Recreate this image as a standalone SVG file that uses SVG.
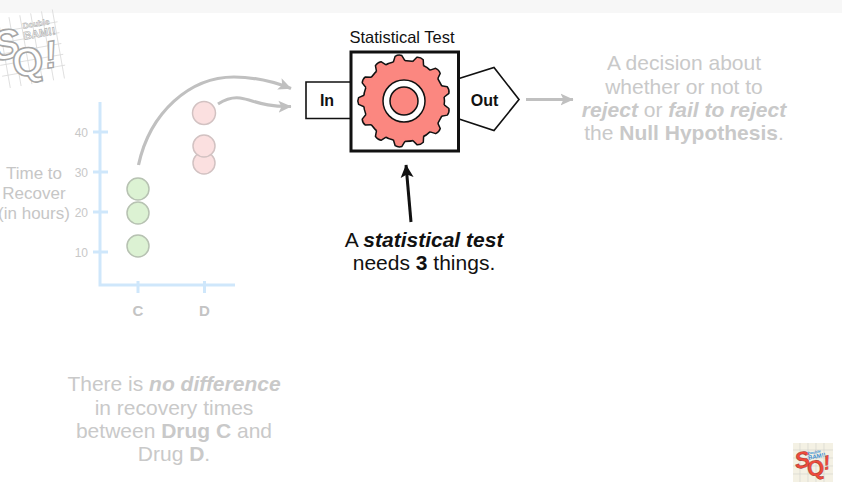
<svg xmlns="http://www.w3.org/2000/svg" xmlns:xlink="http://www.w3.org/1999/xlink" width="842" height="482" viewBox="0 0 842 482">
<style>
text{font-family:"Liberation Sans",Arial,sans-serif}
.big{font-size:21px;text-anchor:middle}
.faint{fill:#c9c9c9}
.ink{fill:#111}
.b{font-weight:bold}
.bi{font-weight:bold;font-style:italic}
.tick{font-size:12px;fill:#c8c8c8;text-anchor:end}
.axis{stroke:#cfe7fb;stroke-width:3;fill:none}
.ylab{font-size:17px;fill:#c6c6c6;text-anchor:middle}
.xlab{font-size:15px;font-weight:bold;fill:#c4c4c4;text-anchor:middle}
.green{fill:#dcf2d3;stroke:#b7c2b2;stroke-width:1.5}
.pink{fill:#fbe0e0;stroke:#d2c2c2;stroke-width:1.5}
.grey{fill:none;stroke:#c0c0c0;stroke-width:3.2}
.line{stroke:#111;stroke-width:1.6;fill:#fff}
.gridg{stroke:#d9d9d9;stroke-width:.8;fill:none}
</style>
<defs>
<marker id="hg" viewBox="0 0 14 14" refX="12.5" refY="7" markerUnits="userSpaceOnUse" markerWidth="14" markerHeight="14" orient="auto"><path d="M0 1 L13 7 L0 13 L3 7Z" fill="#c0c0c0"/></marker>
<marker id="hk" viewBox="0 0 14 14" refX="12.5" refY="7" markerUnits="userSpaceOnUse" markerWidth="14" markerHeight="14" orient="auto"><path d="M0 .5 L13 7 L0 13.5 L3 7Z" fill="#111"/></marker>
<g id="tooth">
<path d="M-5.6 -37 L-5.6 -40 L-3.4 -45.4 Q0 -47 3.4 -45.4 L5.6 -40 L5.6 -37Z" fill="#fb8780"/>
<path d="M-5.8 -40 L-3.4 -45.4 Q0 -47 3.4 -45.4 L5.8 -40" fill="none" stroke="#111" stroke-width="1.5" stroke-linejoin="round"/>
</g>
</defs>
<rect width="842" height="482" fill="#fff"/>
<rect width="842" height="13" fill="#f7f7f7"/>

<g id="logo-top">
<g transform="rotate(-10 30 50)">
<path class="gridg" d="M-2 27H62M-2 38H62M-2 49H62M-2 60H62M-2 71H62M4 14V84M15 14V84M26 14V84M37 14V84M48 14V84M59 14V84"/>
<text x="-7" y="55" font-size="42" font-weight="bold" font-style="italic" fill="#fff" stroke="#a6a6a6" stroke-width="1.6">S</text>
<text x="10" y="75" font-size="40" font-weight="bold" fill="#fff" stroke="#a6a6a6" stroke-width="1.6">Q</text>
<text x="43" y="71" font-size="38" font-weight="bold" font-style="italic" fill="#fff" stroke="#a6a6a6" stroke-width="1.4">!</text>
<text x="27" y="28" font-size="8" font-weight="bold" fill="#fff" stroke="#b0b0b0" stroke-width=".5">Double</text>
<text x="26" y="39" font-size="11" font-weight="bold" fill="#fff" stroke="#b0b0b0" stroke-width=".6">BAM!!</text>
</g>
</g>

<g id="chart">
<path class="axis" d="M100 102V285H235M93 132H108M93 172H108M93 212H108M93 252H108M138 281V293M204.500 281V293"/>
<text class="tick" x="88" y="137">40</text>
<text class="tick" x="88" y="177">30</text>
<text class="tick" x="88" y="217">20</text>
<text class="tick" x="88" y="257">10</text>
<text class="xlab" x="138" y="316">C</text>
<text class="xlab" x="204.500" y="316">D</text>
<text class="ylab" x="34" y="179">Time to</text>
<text class="ylab" x="34" y="199">Recover</text>
<text class="ylab" x="34" y="219">(in hours)</text>
</g>
<g id="dots-c">
<circle class="green" cx="138" cy="189" r="11"/>
<circle class="green" cx="138" cy="213" r="11"/>
<circle class="green" cx="138" cy="246" r="11"/>
</g>
<g id="dots-d">
<circle class="pink" cx="204" cy="163" r="11"/>
<circle class="pink" cx="204" cy="146" r="11"/>
<circle class="pink" cx="204" cy="113" r="11.500"/>
</g>

<g id="connectors">
<path class="grey" marker-end="url(#hg)" d="M138.500 165C150 112 190 77 234 77C254 77 272 81 291 88.500"/>
<path class="grey" marker-end="url(#hg)" d="M218 104C226 99 233 97 240 98C254 100 262 107 291 106.500"/>
<path class="grey" marker-end="url(#hg)" d="M526 99.500H573"/>
<path d="M411 222L406 165" fill="none" stroke="#111" stroke-width="3" marker-end="url(#hk)"/>
</g>

<g id="input">
<path class="line" d="M351 82H306V118.500H351"/>
<text class="b ink" x="327" y="105.500" font-size="16" text-anchor="middle">In</text>
</g>
<g id="output">
<path class="line" d="M459 78.500L494 67.500L519 99.500L494 130.500L459 119"/>
<text class="b ink" x="484.500" y="105.500" font-size="16" text-anchor="middle">Out</text>
</g>
<g id="statistical-test">
<text x="402" y="43" font-size="16.500" class="ink" text-anchor="middle">Statistical Test</text>
<rect x="351" y="52" width="107.500" height="99" fill="#fff" stroke="#111" stroke-width="3"/>
<g transform="translate(404 101)">
<circle r="40.500" fill="#fb8780" stroke="#111" stroke-width="1.500"/>
<use xlink:href="#tooth" href="#tooth" transform="rotate(-7)"/>
<use xlink:href="#tooth" href="#tooth" transform="rotate(20.700)"/>
<use xlink:href="#tooth" href="#tooth" transform="rotate(48.400)"/>
<use xlink:href="#tooth" href="#tooth" transform="rotate(76.100)"/>
<use xlink:href="#tooth" href="#tooth" transform="rotate(103.800)"/>
<use xlink:href="#tooth" href="#tooth" transform="rotate(131.500)"/>
<use xlink:href="#tooth" href="#tooth" transform="rotate(159.200)"/>
<use xlink:href="#tooth" href="#tooth" transform="rotate(186.900)"/>
<use xlink:href="#tooth" href="#tooth" transform="rotate(214.600)"/>
<use xlink:href="#tooth" href="#tooth" transform="rotate(242.300)"/>
<use xlink:href="#tooth" href="#tooth" transform="rotate(270)"/>
<use xlink:href="#tooth" href="#tooth" transform="rotate(297.700)"/>
<use xlink:href="#tooth" href="#tooth" transform="rotate(325.400)"/>
<circle r="21" fill="#fff" stroke="#111" stroke-width="1.500"/>
<circle r="14" fill="#fb8780" stroke="#111" stroke-width="1.500"/>
</g>
</g>

<g id="decision" class="faint">
<text class="big" x="684" y="70">A decision about</text>
<text class="big" x="684" y="93.500">whether or not to</text>
<text class="big" x="684" y="116.500"><tspan class="bi">reject</tspan> or <tspan class="bi">fail to reject</tspan></text>
<text class="big" x="684" y="140">the <tspan class="b">Null Hypothesis</tspan>.</text>
</g>
<g id="needs" class="ink">
<text class="big" x="424" y="247">A <tspan class="bi">statistical test</tspan></text>
<text class="big" x="424" y="270">needs <tspan class="b">3</tspan> things.</text>
</g>
<g id="null-hypothesis" class="faint">
<text class="big" x="174" y="391">There is <tspan class="bi">no difference</tspan></text>
<text class="big" x="174" y="414.500">in recovery times</text>
<text class="big" x="174" y="437.500">between <tspan class="b">Drug C</tspan> and</text>
<text class="big" x="174" y="461">Drug <tspan class="b">D</tspan>.</text>
</g>

<g id="logo-bottom">
<rect x="793" y="443" width="40" height="39" fill="#f4f1e4"/>
<path d="M793 450H833M793 458H833M793 466H833M793 474H833M800 443V482M808 443V482M816 443V482M824 443V482" stroke="#d6d6d0" stroke-width=".7" fill="none"/>
<g transform="rotate(-10 813 462)">
<text x="795" y="466" font-size="23" font-weight="bold" font-style="italic" fill="#ef4a3c" stroke="#8c2a22" stroke-width=".4">S</text>
<text x="806" y="476" font-size="22" font-weight="bold" fill="#ef4a3c" stroke="#8c2a22" stroke-width=".4">Q</text>
<text x="823" y="472" font-size="20" font-weight="bold" font-style="italic" fill="#ef4a3c" stroke="#8c2a22" stroke-width=".3">!</text>
<text x="809" y="454" font-size="4" font-weight="bold" fill="#3f8fd0">Double</text>
<text x="809" y="459" font-size="6" font-weight="bold" fill="#3f8fd0">BAM!!</text>
</g>
</g>
</svg>
